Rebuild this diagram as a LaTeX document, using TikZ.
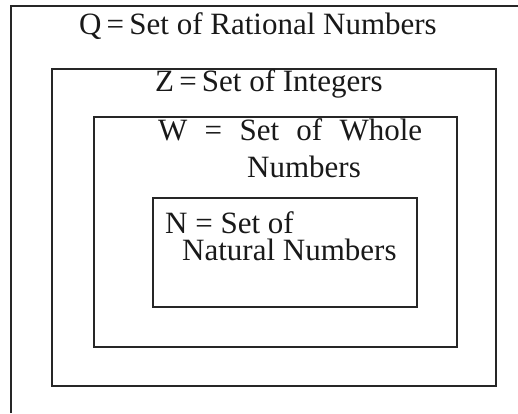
\documentclass[tikz,border=0pt]{standalone}
\usepackage{fontspec}
\setmainfont{Liberation Serif}
\begin{document}
\begin{tikzpicture}[x=1pt,y=-1pt,
  setbox/.style={draw=black!85,line width=1.8pt},
  lbl/.style={anchor=base west,inner sep=0pt,font=\fontsize{31}{36}\selectfont,text=black!90}]
\useasboundingbox (0,0) rectangle (518,413);
\draw[setbox] (11,413) -- (11,6) -- (518,6);
\draw[setbox] (52,69) rectangle (496,386);
\draw[setbox] (94,117) rectangle (457,347);
\draw[setbox] (153,198) rectangle (417,307);
\node[lbl] (q) at (79,34) {Q\,=\,Set of Rational Numbers};
\node[lbl] (z) at (155,91) {Z\,=\,Set of Integers};
\node[lbl] (w1) at (158,140) {\makebox[264pt][s]{W = Set of Whole}};
\node[lbl] (w2) at (247,177) {Numbers};
\node[lbl] (n1) at (165,233) {N = Set of};
\node[lbl] (n2) at (182,260) {Natural Numbers};
\end{tikzpicture}
\end{document}
